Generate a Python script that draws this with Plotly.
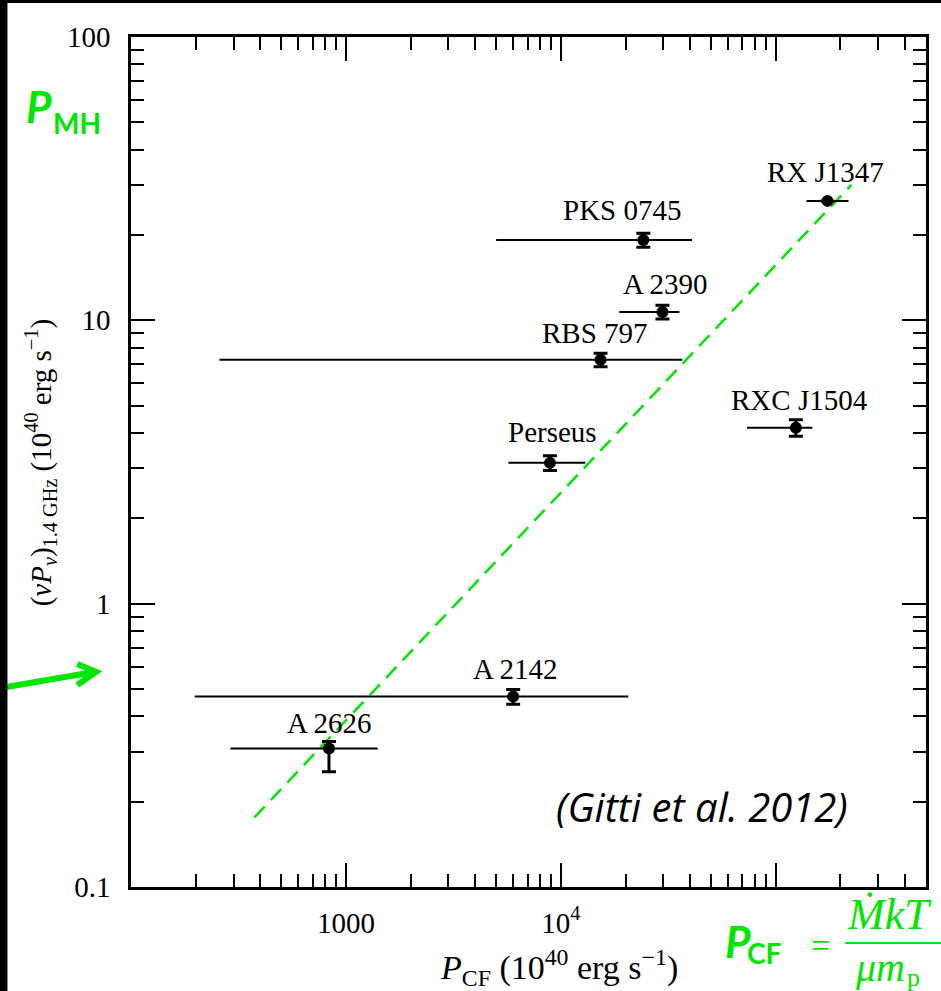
import math
import plotly.graph_objects as go

# ---- data ----
clusters = ["RX J1347", "PKS 0745", "A 2390", "RBS 797", "Perseus", "RXC J1504", "A 2142", "A 2626"]
p_cf = [1.74e5, 2.42e4, 2.97e4, 1.53e4, 8.9e3, 1.24e5, 6.0e3, 834]
p_cf_lo = [1.39e5, 5.0e3, 1.87e4, 258, 5.7e3, 7.35e4, 198, 290]
p_cf_hi = [2.18e5, 4.08e4, 3.56e4, 3.67e4, 1.3e4, 1.48e5, 2.06e4, 1407]
p_mh = [26.4, 19.2, 10.7, 7.26, 3.14, 4.18, 0.47, 0.308]
p_mh_err_up = [0.0, 1.1, 0.6, 0.4, 0.19, 0.28, 0.028, 0.018]
p_mh_err_dn = [0.0, 1.1, 0.6, 0.4, 0.19, 0.28, 0.028, 0.053]

# label anchor positions (data coords)
label_x = [1.71e5, 1.93e4, 3.08e4, 1.44e4, 9.12e3, 1.285e5, 6.15e3, 836]
label_y = [33.4, 24.5, 13.4, 9.02, 4.04, 5.24, 0.587, 0.379]

# dashed fit line end points
fit_x = [375, 2.25e5]
fit_y = [0.176, 30.1]

x_major = [100, 1000, 1e4, 1e5]
x_major_text = ["", "1000", "10<sup>4</sup>", ""]
y_major = [0.1, 1, 10, 100]
y_major_text = ["0.1", "1", "10", "100"]

GREEN = "#00e600"
SERIF = "Liberation Serif"

# plot area pixel geometry (for decorations outside the axes)
L, R, T, B = 131, 929, 37, 887
def px(x):
    return (x - L) / (R - L)
def py(y):
    return (B - y) / (B - T)

x_minor = [m * 10 ** d for d in range(2, 6) for m in range(2, 10) if m * 10 ** d < 5e5]
y_minor = [m * 10 ** d for d in range(-1, 2) for m in range(2, 10)]

fig = go.Figure()

fig.add_trace(go.Scatter(
    x=fit_x, y=fit_y, mode="lines",
    line=dict(color=GREEN, width=2.5, dash="15px,9px"),
    showlegend=False, hoverinfo="skip"))

fig.add_trace(go.Scatter(
    x=p_cf, y=p_mh, mode="markers",
    marker=dict(color="black", size=12, symbol="circle"),
    error_x=dict(type="data", symmetric=False,
                 array=[h - v for h, v in zip(p_cf_hi, p_cf)],
                 arrayminus=[v - l for v, l in zip(p_cf, p_cf_lo)],
                 color="black", thickness=2, width=0),
    error_y=dict(type="data", symmetric=False,
                 array=p_mh_err_up, arrayminus=p_mh_err_dn,
                 color="black", thickness=3, width=7),
    showlegend=False))

annotations = []
for name, lx, ly in zip(clusters, label_x, label_y):
    annotations.append(dict(x=math.log10(lx), y=math.log10(ly), xref="x", yref="y",
                            text=name, showarrow=False,
                            font=dict(family=SERIF, size=29, color="black"),
                            xanchor="center", yanchor="middle"))

# axis titles
annotations.append(dict(
    x=px(40), y=py(463), xref="paper", yref="paper", textangle=-90,
    text="(<i>νP</i><sub><i>ν</i></sub>)<sub>1.4 GHz</sub> (10<sup>40</sup> erg s<sup>−1</sup>)",
    showarrow=False, font=dict(family=SERIF, size=29, color="black"),
    xanchor="center", yanchor="middle"))
annotations.append(dict(
    x=px(561), y=py(968), xref="paper", yref="paper",
    text="<i>P</i><sub>CF</sub> (10<sup>40</sup> erg s<sup>−1</sup>)",
    showarrow=False, font=dict(family=SERIF, size=34, color="black"),
    xanchor="center", yanchor="middle"))

# citation
annotations.append(dict(
    x=px(704), y=py(806), xref="paper", yref="paper", text="(Gitti et al. 2012)",
    showarrow=False, font=dict(family="Open Sans", size=40, color="black", style="italic"),
    xanchor="center", yanchor="middle"))

# green overlay labels
annotations += [
    dict(x=px(39), y=py(106), xref="paper", yref="paper", text="<b><i>P</i></b>", showarrow=False,
         font=dict(family="Lato", size=44, color=GREEN), xanchor="center", yanchor="middle"),
    dict(x=px(77), y=py(123), xref="paper", yref="paper", text="<b>MH</b>", showarrow=False,
         font=dict(family="Lato", size=28, color=GREEN), xanchor="center", yanchor="middle"),
    dict(x=px(740), y=py(941), xref="paper", yref="paper", text="<b><i>P</i></b>", showarrow=False,
         font=dict(family="Lato", size=44, color=GREEN), xanchor="center", yanchor="middle"),
    dict(x=px(767), y=py(953), xref="paper", yref="paper", text="<b>CF</b>", showarrow=False,
         font=dict(family="Lato", size=28, color=GREEN), xanchor="center", yanchor="middle"),
    dict(x=px(823), y=py(945), xref="paper", yref="paper", text="=", showarrow=False,
         font=dict(family=SERIF, size=34, color=GREEN), xanchor="center", yanchor="middle"),
    dict(x=px(848), y=py(914), xref="paper", yref="paper", text="<i>ṀkT</i>", showarrow=False,
         font=dict(family=SERIF, size=44, color=GREEN), xanchor="left", yanchor="middle"),
    dict(x=px(856), y=py(968), xref="paper", yref="paper", text="<i>μm</i>", showarrow=False,
         font=dict(family=SERIF, size=40, color=GREEN), xanchor="left", yanchor="middle"),
    dict(x=px(908), y=py(978), xref="paper", yref="paper", text="p", showarrow=False,
         font=dict(family=SERIF, size=26, color=GREEN), xanchor="left", yanchor="middle"),
]

shapes = [
    # fraction bar
    dict(type="line", xref="paper", yref="paper", x0=px(848), x1=px(945), y0=py(943), y1=py(943),
         line=dict(color=GREEN, width=2)),
    # green arrow
    dict(type="line", xref="paper", yref="paper", x0=px(0), y0=py(688), x1=px(94), y1=py(672),
         line=dict(color=GREEN, width=6)),
    dict(type="path", xref="paper", yref="paper",
         path=f"M {px(77)} {py(664)} L {px(96)} {py(672)} L {px(77)} {py(685)}",
         line=dict(color=GREEN, width=6)),
    # black frame on left and top edge of the screenshot
    dict(type="rect", xref="paper", yref="paper", x0=px(-5), x1=px(7), y0=py(1000), y1=py(-5),
         fillcolor="black", line=dict(width=0), layer="above"),
    dict(type="rect", xref="paper", yref="paper", x0=px(-5), x1=px(950), y0=py(3), y1=py(-5),
         fillcolor="black", line=dict(width=0), layer="above"),
]

axis_common = dict(
    type="log", showgrid=False, zeroline=False,
    showline=True, linecolor="black", linewidth=2.5, mirror="ticks",
    ticks="inside", ticklen=24, tickwidth=2.2, tickcolor="black",
    tickfont=dict(family=SERIF, size=29, color="black"),
    tickmode="array",
)

fig.update_xaxes(**axis_common, range=[2, 5.699],
                 tickvals=x_major, ticktext=x_major_text, ticklabelstandoff=8,
                 minor=dict(tickmode="array", tickvals=x_minor, ticks="inside", ticklen=13,
                            tickwidth=2.2, tickcolor="black", showgrid=False))
fig.update_yaxes(**axis_common, range=[-1, 2],
                 tickvals=y_major, ticktext=y_major_text, ticklabelstandoff=12,
                 minor=dict(tickmode="array", tickvals=y_minor, ticks="inside", ticklen=13,
                            tickwidth=2.2, tickcolor="black", showgrid=False))

fig.update_layout(
    width=941, height=991,
    margin=dict(l=L, r=941 - R, t=T, b=991 - B),
    paper_bgcolor="white", plot_bgcolor="white",
    annotations=annotations, shapes=shapes,
    showlegend=False,
)

fig.write_html("out.html")
